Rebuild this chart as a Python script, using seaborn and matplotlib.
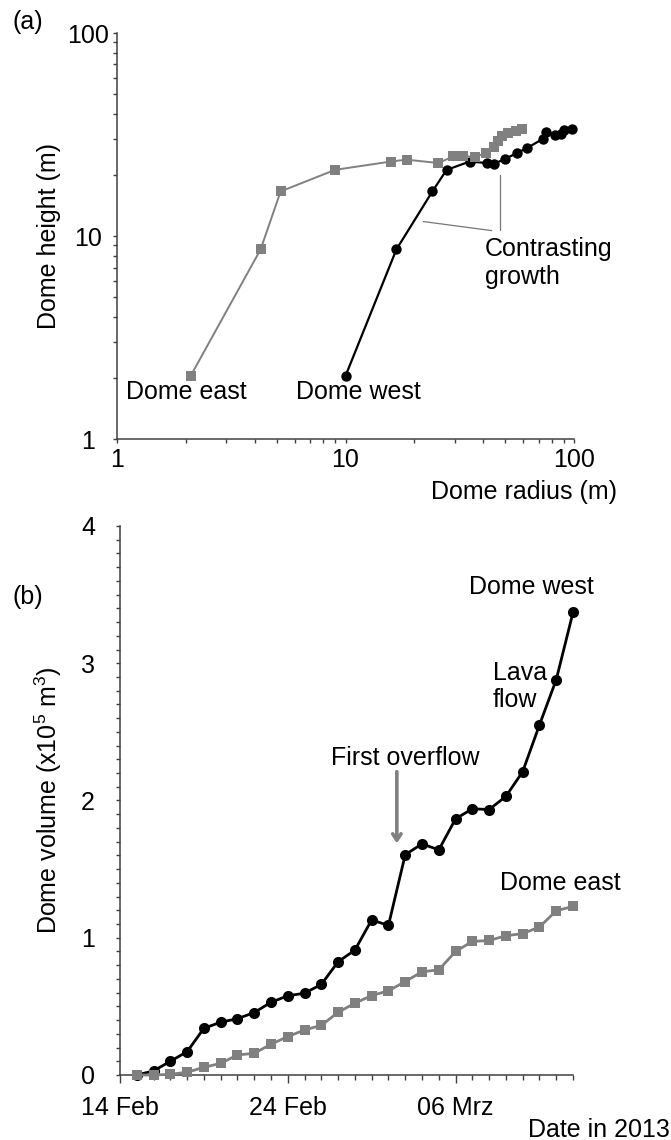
import matplotlib
matplotlib.use("Agg")
import matplotlib.pyplot as plt
import matplotlib.dates as mdates
from matplotlib.ticker import FixedLocator, FuncFormatter, MultipleLocator, LogLocator, NullFormatter
import numpy as np
import pandas as pd
import seaborn as sns

# ---------------- data ----------------
# (a) dome radius vs height (log-log)
radius_west = [10.0, 16.7, 24.0, 27.7, 35.0, 41.6, 44.7, 49.9, 56.1, 62.1, 73.4, 75.4, 82.6, 87.7, 90.4, 97.7]
height_west = [2.05, 8.6, 16.6, 21.2, 23.3, 22.9, 22.7, 24.0, 25.6, 27.1, 30.2, 32.5, 31.5, 31.7, 33.2, 33.8]
radius_east = [2.1, 4.25, 5.2, 9.0, 15.8, 18.5, 25.5, 29.6, 32.8, 37.0, 41.0, 44.5, 46.5, 48.5, 51.6, 55.5, 59.0]
height_east = [2.05, 8.6, 16.6, 21.2, 23.3, 23.8, 22.9, 24.7, 24.9, 24.4, 25.8, 27.5, 29.4, 31.0, 32.3, 33.0, 33.6]

# (b) dome volume (x10^5 m^3) over time
dates = ['2013-02-15', '2013-02-16', '2013-02-17', '2013-02-18', '2013-02-19', '2013-02-20',
         '2013-02-21', '2013-02-22', '2013-02-23', '2013-02-24', '2013-02-25', '2013-02-26',
         '2013-02-27', '2013-02-28', '2013-03-01', '2013-03-02', '2013-03-03', '2013-03-04',
         '2013-03-05', '2013-03-06', '2013-03-07', '2013-03-08', '2013-03-09', '2013-03-10',
         '2013-03-11', '2013-03-12', '2013-03-13']
volume_west = [0.0, 0.03, 0.10, 0.17, 0.34, 0.385, 0.41, 0.455, 0.53, 0.577, 0.596, 0.66,
               0.825, 0.91, 1.13, 1.09, 1.605, 1.684, 1.64, 1.866, 1.94, 1.934, 2.03, 2.21,
               2.55, 2.88, 3.37]
volume_east = [0.0, 0.0, 0.005, 0.02, 0.056, 0.085, 0.146, 0.158, 0.224, 0.28, 0.328, 0.362,
               0.457, 0.523, 0.579, 0.613, 0.681, 0.752, 0.766, 0.90, 0.973, 0.98, 1.015, 1.03,
               1.078, 1.197, 1.228]
date_ticks = ['2013-02-14', '2013-02-24', '2013-03-06']
date_tick_labels = ['14 Feb', '24 Feb', '06 Mrz']
x_start, x_end = '2013-02-14', '2013-03-13'

# ---------------- style ----------------
sns.set_style("ticks")
plt.rcParams['font.family'] = ['Liberation Sans', 'DejaVu Sans']
plt.rcParams['mathtext.fontset'] = 'custom'
plt.rcParams['mathtext.rm'] = 'Liberation Sans'
plt.rcParams['mathtext.it'] = 'Liberation Sans:italic'
plt.rcParams['mathtext.bf'] = 'Liberation Sans:bold'
plt.rcParams['text.color'] = 'black'
plt.rcParams['axes.labelcolor'] = 'black'
plt.rcParams['xtick.labelcolor'] = 'black'
plt.rcParams['ytick.labelcolor'] = 'black'
FS = 18
GREY = '#808080'
SPINE = '#404040'

fig = plt.figure(figsize=(6.71, 11.4), dpi=100)
ax1 = fig.add_axes([0.17437, 0.61465, 0.68107, 0.35640])
ax2 = fig.add_axes([0.17884, 0.05702, 0.67511, 0.48158])

# ---------------- panel (a) ----------------
dfw = pd.DataFrame({'r': radius_west, 'h': height_west})
dfe = pd.DataFrame({'r': radius_east, 'h': height_east})
sns.lineplot(data=dfw, x='r', y='h', sort=False, estimator=None, ax=ax1, color='black',
             lw=1.6, marker='o', ms=7.5, mec='black', mew=0, zorder=3, clip_on=False)
sns.lineplot(data=dfe, x='r', y='h', sort=False, estimator=None, ax=ax1, color=GREY,
             lw=1.4, marker='s', ms=7, mec=GREY, mew=0, zorder=4, clip_on=False)
ax1.set_xscale('log')
ax1.set_yscale('log')
ax1.set_xlim(1, 100)
ax1.set_ylim(1, 100)
for axis in (ax1.xaxis, ax1.yaxis):
    axis.set_major_locator(FixedLocator([1, 10, 100]))
    axis.set_major_formatter(FuncFormatter(lambda v, p: f'{v:g}'))
    axis.set_minor_locator(LogLocator(base=10, subs=np.arange(2, 10)))
    axis.set_minor_formatter(NullFormatter())
ax1.tick_params(axis='both', which='both', direction='out', length=3, width=1, color=SPINE,
                labelsize=FS, labelcolor='black')
ax1.tick_params(axis='x', which='major', pad=3.5)
ax1.tick_params(axis='y', which='major', pad=18)
for lab in ax1.get_yticklabels():
    lab.set_ha('center')
ax1.set_xlabel('Dome radius (m)', fontsize=FS, color='black')
ax1.set_ylabel('Dome height (m)', fontsize=FS, color='black')
ax1.xaxis.set_label_coords(1.094, -0.1297)
ax1.xaxis.label.set_ha('right')
ax1.xaxis.label.set_va('center')
ax1.yaxis.set_label_coords(-0.149, 0.5)
ax1.yaxis.label.set_va('center')

ax1.text(1.095, 1.70, 'Dome east', fontsize=FS, ha='left', va='center', color='black')
ax1.text(6.07, 1.70, 'Dome west', fontsize=FS, ha='left', va='center', color='black')
ax1.text(40.8, 7.39, 'Contrasting\ngrowth', fontsize=FS, ha='left', va='center', color='black')
ax1.plot([21.9, 43.6], [11.8, 10.65], color='#777777', lw=0.9, zorder=2)
ax1.plot([47.5, 47.5], [20.0, 10.73], color='#777777', lw=0.9, zorder=2)

# ---------------- panel (b) ----------------
dfb = pd.DataFrame({'date': pd.to_datetime(dates), 'west': volume_west, 'east': volume_east})
sns.lineplot(data=dfb, x='date', y='west', ax=ax2, color='black', lw=2.0, marker='o',
             ms=8, mec='black', mew=0, zorder=3, clip_on=False)
sns.lineplot(data=dfb, x='date', y='east', ax=ax2, color=GREY, lw=2.0, marker='s',
             ms=7.5, mec=GREY, mew=0, zorder=4, clip_on=False)
ax2.set_xlim(mdates.date2num(pd.Timestamp(x_start)), mdates.date2num(pd.Timestamp(x_end)))
ax2.set_ylim(0, 4)
ax2.set_xticks(mdates.date2num(pd.to_datetime(date_ticks)))
ax2.set_xticklabels(date_tick_labels)
ax2.xaxis.set_minor_locator(mdates.DayLocator())
ax2.yaxis.set_major_locator(MultipleLocator(1))
ax2.yaxis.set_minor_locator(MultipleLocator(0.1))
ax2.yaxis.set_major_formatter(FuncFormatter(lambda v, p: f'{v:g}'))
ax2.tick_params(axis='both', which='both', direction='out', width=1, color=SPINE,
                labelsize=FS, labelcolor='black')
ax2.tick_params(axis='x', which='major', length=6, pad=9)
ax2.tick_params(axis='x', which='minor', length=3.5)
ax2.tick_params(axis='y', which='both', length=3)
ax2.tick_params(axis='y', which='major', pad=20)
for lab in ax2.get_yticklabels():
    lab.set_ha('center')
ax2.set_xlabel('Date in 2013', fontsize=FS, color='black')
ax2.set_ylabel('Dome volume (x10$^5$ m$^3$)', fontsize=FS, color='black')
ax2.xaxis.set_label_coords(1.214, -0.100)
ax2.xaxis.label.set_ha('right')
ax2.xaxis.label.set_va('center')
ax2.yaxis.set_label_coords(-0.159, 0.5)
ax2.yaxis.label.set_va('center')

def dnum(s):
    return mdates.date2num(pd.Timestamp(s))

ax2.text(dnum('2013-03-10 13:00'), 3.556, 'Dome west', fontsize=FS, ha='center', va='center', color='black')
ax2.text(dnum('2013-03-08 05:30'), 2.83, 'Lava\nflow', fontsize=FS, ha='left', va='center', color='black')
ax2.text(dnum('2013-03-03 00:00'), 2.31, 'First overflow', fontsize=FS, ha='center', va='center', color='black')
ax2.text(dnum('2013-03-08 15:30'), 1.40, 'Dome east', fontsize=FS, ha='left', va='center', color='black')
ax2.annotate('', xy=(dnum('2013-03-02 12:00'), 1.688), xytext=(dnum('2013-03-02 12:00'), 2.21),
             arrowprops=dict(arrowstyle='->,head_length=0.45,head_width=0.3', color=GREY,
                             lw=2.6, shrinkA=0, shrinkB=0))

for ax in (ax1, ax2):
    sns.despine(ax=ax)
    for sp in ('left', 'bottom'):
        ax.spines[sp].set_color(SPINE)
        ax.spines[sp].set_linewidth(1.1)
    ax.set_facecolor('white')
    if ax.get_legend() is not None:
        ax.get_legend().remove()

fig.text(12 / 671, 1 - 22 / 1140, '(a)', fontsize=FS, ha='left', va='center', color='black')
fig.text(12 / 671, 1 - 597 / 1140, '(b)', fontsize=FS, ha='left', va='center', color='black')

fig.savefig('out.png', dpi=100, facecolor='white')
